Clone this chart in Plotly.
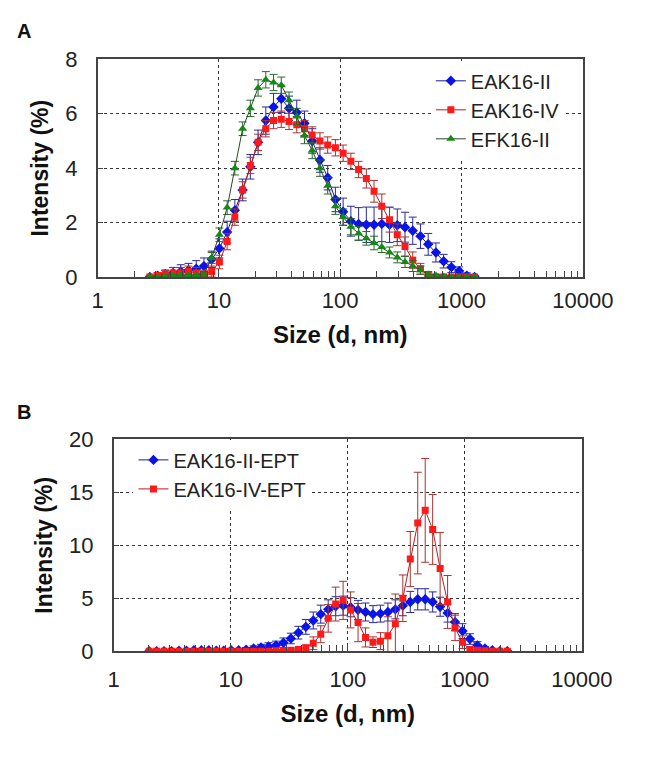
import plotly.graph_objects as go

# ---------------- Panel A data ----------------
sizes_A = [2.696, 3.122, 3.615, 4.187, 4.849, 5.615, 6.503, 7.531, 8.721, 10.1,
           11.7, 13.54, 15.69, 18.17, 21.04, 24.36, 28.21, 32.67, 37.84, 43.82,
           50.75, 58.77, 68.06, 78.82, 91.28, 105.7, 122.4, 141.8, 164.2, 190.1,
           220.2, 255.0, 295.3, 342.0, 396.1, 458.7, 531.2, 615.1, 712.4, 825.0,
           955.4, 1106, 1281]

eak16_ii = [0.0, 0.05, 0.1, 0.15, 0.2, 0.25, 0.3, 0.4, 0.65, 1.05,
            1.65, 2.45, 3.2, 4.05, 4.95, 5.75, 6.25, 6.55, 6.2, 6.05,
            5.65, 5.0, 4.3, 3.65, 2.85, 2.4, 2.05, 1.95, 1.92, 1.92,
            1.95, 1.92, 1.9, 1.83, 1.7, 1.5, 1.2, 0.9, 0.58, 0.36,
            0.22, 0.05, 0.0]
eak16_ii_err = [0.05, 0.1, 0.15, 0.2, 0.25, 0.25, 0.3, 0.3, 0.3, 0.35,
                0.4, 0.4, 0.4, 0.45, 0.45, 0.5, 0.5, 0.5, 0.45, 0.45,
                0.45, 0.45, 0.45, 0.45, 0.45, 0.5, 0.55, 0.6, 0.65, 0.65,
                0.65, 0.65, 0.6, 0.55, 0.5, 0.45, 0.4, 0.35, 0.25, 0.2,
                0.15, 0.1, 0.05]

eak16_iv = [0.0, 0.05, 0.1, 0.15, 0.15, 0.2, 0.15, 0.1, 0.2, 0.55,
            1.3, 2.2, 3.2, 4.1, 4.95, 5.45, 5.75, 5.8, 5.72, 5.6,
            5.45, 5.22, 5.0, 4.85, 4.75, 4.55, 4.25, 3.95, 3.62, 3.15,
            2.6, 2.1, 1.55, 1.12, 0.62, 0.3, 0.05, 0.0, 0.0, 0.0,
            0.0, 0.0, 0.0]
eak16_iv_err = [0.05, 0.1, 0.15, 0.2, 0.2, 0.2, 0.2, 0.15, 0.2, 0.25,
                0.3, 0.3, 0.3, 0.3, 0.3, 0.3, 0.3, 0.3, 0.3, 0.3,
                0.3, 0.3, 0.3, 0.3, 0.3, 0.3, 0.3, 0.3, 0.35, 0.4,
                0.45, 0.45, 0.4, 0.35, 0.3, 0.2, 0.1, 0.05, 0.05, 0.05,
                0.05, 0.05, 0.05]

efk16_ii = [0.0, 0.0, 0.02, 0.05, 0.05, 0.05, 0.05, 0.1, 0.7, 1.55,
            2.55, 4.0, 5.45, 6.2, 6.95, 7.25, 7.15, 7.05, 6.5, 5.9,
            5.2, 4.65, 4.0, 3.35, 2.6, 2.2, 1.85, 1.6, 1.42, 1.25,
            1.1, 0.9, 0.72, 0.55, 0.4, 0.25, 0.1, 0.05, 0.02, 0.0,
            0.0, 0.0, 0.0]
efk16_ii_err = [0.02, 0.02, 0.05, 0.05, 0.05, 0.05, 0.05, 0.1, 0.2, 0.25,
                0.25, 0.25, 0.25, 0.3, 0.3, 0.3, 0.3, 0.3, 0.3, 0.3,
                0.3, 0.3, 0.3, 0.3, 0.3, 0.3, 0.3, 0.25, 0.25, 0.25,
                0.2, 0.2, 0.2, 0.2, 0.2, 0.15, 0.1, 0.05, 0.05, 0.05,
                0.05, 0.05, 0.05]

# ---------------- Panel B data ----------------
sizes_B = [2.01, 2.328, 2.696, 3.122, 3.615, 4.187, 4.849, 5.615, 6.503, 7.531,
           8.721, 10.1, 11.7, 13.54, 15.69, 18.17, 21.04, 24.36, 28.21, 32.67,
           37.84, 43.82, 50.75, 58.77, 68.06, 78.82, 91.28, 105.7, 122.4, 141.8,
           164.2, 190.1, 220.2, 255.0, 295.3, 342.0, 396.1, 458.7, 531.2, 615.1,
           712.4, 825.0, 955.4, 1106, 1281, 1484, 1718, 1990, 2305]

eak16_ii_ept = [0.0, 0.0, 0.0, 0.0, 0.05, 0.05, 0.1, 0.1, 0.1, 0.05,
                0.05, 0.1, 0.1, 0.15, 0.25, 0.35, 0.45, 0.55, 0.8, 1.2,
                1.75, 2.3, 2.9, 3.5, 3.95, 4.25, 4.3, 4.15, 3.9, 3.7,
                3.5, 3.55, 3.7, 3.95, 4.3, 4.65, 4.9, 4.9, 4.65, 4.2,
                3.6, 2.75, 1.9, 1.15, 0.55, 0.25, 0.1, 0.0, 0.0]
eak16_ii_ept_err = [0.05, 0.05, 0.05, 0.1, 0.1, 0.1, 0.15, 0.15, 0.15, 0.1,
                    0.1, 0.15, 0.15, 0.2, 0.25, 0.3, 0.35, 0.4, 0.45, 0.5,
                    0.6, 0.7, 0.8, 0.85, 0.9, 0.9, 0.9, 0.9, 0.9, 0.85,
                    0.8, 0.8, 0.85, 0.9, 0.95, 1.0, 1.0, 1.0, 0.95, 0.9,
                    0.85, 0.8, 0.7, 0.5, 0.35, 0.2, 0.1, 0.05, 0.05]

eak16_iv_ept = [0.0, 0.0, 0.0, 0.0, 0.0, 0.0, 0.0, 0.0, 0.0, 0.0,
                0.0, 0.0, 0.0, 0.0, 0.0, 0.0, 0.0, 0.05, 0.05, 0.1,
                0.15, 0.3, 0.75, 1.6, 3.1, 4.45, 4.8, 3.9, 2.7, 1.3,
                0.85, 0.95, 1.45, 2.6, 5.0, 8.7, 12.1, 13.3, 11.5, 7.8,
                4.65, 2.2, 0.85, 0.15, 0.1, 0.05, 0.0, 0.0, 0.0]
eak16_iv_ept_err = [0.0, 0.0, 0.0, 0.0, 0.0, 0.0, 0.0, 0.0, 0.0, 0.0,
                    0.0, 0.0, 0.0, 0.0, 0.0, 0.0, 0.05, 0.05, 0.1, 0.1,
                    0.15, 0.3, 0.6, 0.8, 1.3, 1.6, 1.8, 1.7, 1.8, 0.9,
                    0.5, 0.8, 1.8, 2.8, 2.2, 2.6, 4.8, 4.9, 3.3, 3.4,
                    2.5, 1.2, 0.6, 0.2, 0.1, 0.05, 0.0, 0.0, 0.0]

x_tickvals = [1, 10, 100, 1000, 10000]
x_ticktext = ["1", "10", "100", "1000", "10000"]

FONT = "Liberation Sans, Arial, sans-serif"
BLUE, BLUE_E = "#0a14e6", "#2a2a9a"
RED, RED_E = "#ff1a1a", "#a83232"
GREEN, GREEN_E = "#138a13", "#2a6a2a"

fig = go.Figure()


def add(x, y, err, name, color, ecolor, symbol, msize, xa, ya, legend, lcolor):
    fig.add_trace(go.Scatter(
        x=x, y=y, name=name, mode="lines+markers",
        xaxis=xa, yaxis=ya, legend=legend,
        line=dict(color=lcolor, width=1),
        marker=dict(color=color, symbol=symbol, size=msize, line=dict(width=0)),
        error_y=dict(type="data", array=err, color=ecolor, thickness=1, width=4),
    ))


add(sizes_A, eak16_ii, eak16_ii_err, "EAK16-II", BLUE, BLUE_E, "diamond", 8, "x", "y", "legend", "#1a1a8a")
add(sizes_A, eak16_iv, eak16_iv_err, "EAK16-IV", RED, RED_E, "square", 7, "x", "y", "legend", "#b02020")
add(sizes_A, efk16_ii, efk16_ii_err, "EFK16-II", GREEN, GREEN_E, "triangle-up", 8, "x", "y", "legend", "#2a4a2a")
add(sizes_B, eak16_ii_ept, eak16_ii_ept_err, "EAK16-II-EPT", BLUE, BLUE_E, "diamond", 8, "x2", "y2", "legend2", "#1a1a8a")
add(sizes_B, eak16_iv_ept, eak16_iv_ept_err, "EAK16-IV-EPT", RED, RED_E, "square", 7, "x2", "y2", "legend2", "#b02020")

W, H = 662, 758
tickfont = dict(family=FONT, size=22, color="#222")
xtitlefont = dict(family=FONT, size=24, color="#111", weight="bold")
ytitlefont = dict(family=FONT, size=23, color="#111", weight="bold")

xcommon = dict(type="log", range=[0, 4], tickvals=x_tickvals, ticktext=x_ticktext,
               showgrid=True, gridcolor="#333", griddash="3px,3px", gridwidth=1.3,
               showline=True, linecolor="#444", linewidth=1.5, mirror=True,
               ticks="inside", ticklen=6, tickcolor="#444",
               minor=dict(ticks="inside", ticklen=6, tickcolor="#444", dtick="D1", showgrid=False),
               tickfont=tickfont, zeroline=False)
ycommon = dict(showgrid=True, gridcolor="#333", griddash="3px,3px", gridwidth=1.3,
               showline=True, linecolor="#444", linewidth=1.5, mirror=True,
               ticks="inside", ticklen=6, tickcolor="#444", zeroline=False,
               tickfont=tickfont, ticklabelstandoff=14,
               title=dict(text="Intensity (%)", font=ytitlefont, standoff=10))

fig.update_layout(
    width=W, height=H, margin=dict(l=0, r=0, t=0, b=0),
    paper_bgcolor="white", plot_bgcolor="white",
    font=dict(family=FONT),
    xaxis=dict(domain=[97 / W, 611 / W], anchor="y", ticklabelstandoff=3,
               title=dict(text="Size (d, nm)", font=xtitlefont, standoff=14), **xcommon),
    yaxis=dict(domain=[1 - 274 / H, 1 - 49 / H], anchor="x", range=[0, 8], dtick=2, **ycommon),
    xaxis2=dict(domain=[114 / W, 610 / W], anchor="y2", ticklabelstandoff=8,
                title=dict(text="Size (d, nm)", font=xtitlefont, standoff=14), **xcommon),
    yaxis2=dict(domain=[1 - 661 / H, 1 - 442 / H], anchor="x2", range=[0, 20], dtick=5, **ycommon),
    legend=dict(x=450 / W, y=1 - 51 / H, xanchor="left", yanchor="top",
                bgcolor="white", font=dict(family=FONT, size=20, color="#222"),
                tracegroupgap=0, itemwidth=30),
    legend2=dict(x=135 / W, y=1 - 443 / H, xanchor="left", yanchor="top",
                 bgcolor="white", font=dict(family=FONT, size=20, color="#222"),
                 tracegroupgap=0, itemwidth=30),
    showlegend=True,
    annotations=[
        dict(text="<b>A</b>", x=10 / W, y=1 - 6 / H, xref="paper", yref="paper",
             xanchor="left", yanchor="top", showarrow=False, font=dict(family=FONT, size=20, color="#111")),
        dict(text="<b>B</b>", x=10 / W, y=1 - 400 / H, xref="paper", yref="paper",
             xanchor="left", yanchor="top", showarrow=False, font=dict(family=FONT, size=20, color="#111")),
    ],
)

fig.write_html("out.html")
